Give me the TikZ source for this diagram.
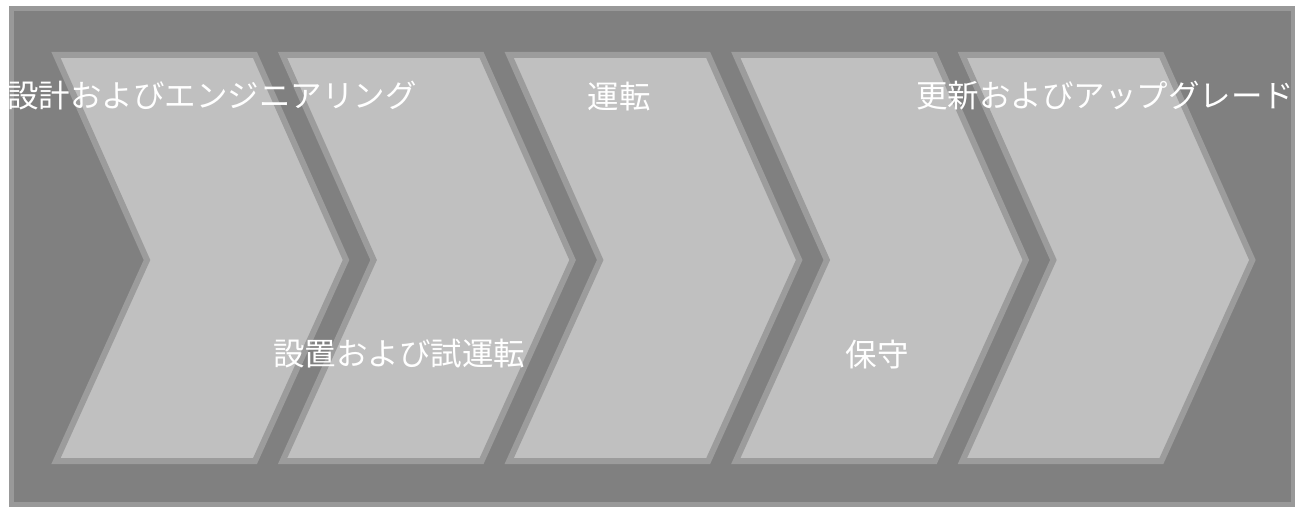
\documentclass[tikz,border=0pt]{standalone}
\usepackage{fontspec}
\newfontfamily\jpfont{Noto Sans CJK JP}
\definecolor{bgfill}{HTML}{808080}
\definecolor{bgline}{HTML}{999999}
\definecolor{chevfill}{HTML}{C0C0C0}
\definecolor{chevline}{HTML}{9C9C9C}
\tikzset{
  bgbox/.style={fill=bgfill,draw=bgline,line width=5pt},
  chevron/.style={fill=chevfill,draw=chevline,line width=6pt,line join=miter},
  label/.style={text=white,font=\jpfont\fontsize{31.5}{36}\selectfont,anchor=base,inner sep=0pt}
}
\begin{document}
\begin{tikzpicture}[x=1pt,y=-1pt]
\useasboundingbox[fill=white] (0,0) rectangle (1295,508);
\draw[bgbox] (11.5,8.5) rectangle (1293,504);
\foreach \i in {0,...,4}{
  \pgfmathsetmacro{\xo}{56+226.6*\i}
  \draw[chevron] (\xo,55) -- ++(199,0) -- ++(91,205) -- ++(-91,201) -- ++(-199,0) -- ++(91,-201) -- cycle;
}
\node[label] (t1) at (212,108) {設計およびエンジニアリング};
\node[label] (t2) at (399,365) {設置および試運転};
\node[label] (t3) at (619,109) {運転};
\node[label] (t4) at (877,366) {保守};
\node[label] (t5) at (1105,108) {更新およびアップグレード};
\end{tikzpicture}
\end{document}
